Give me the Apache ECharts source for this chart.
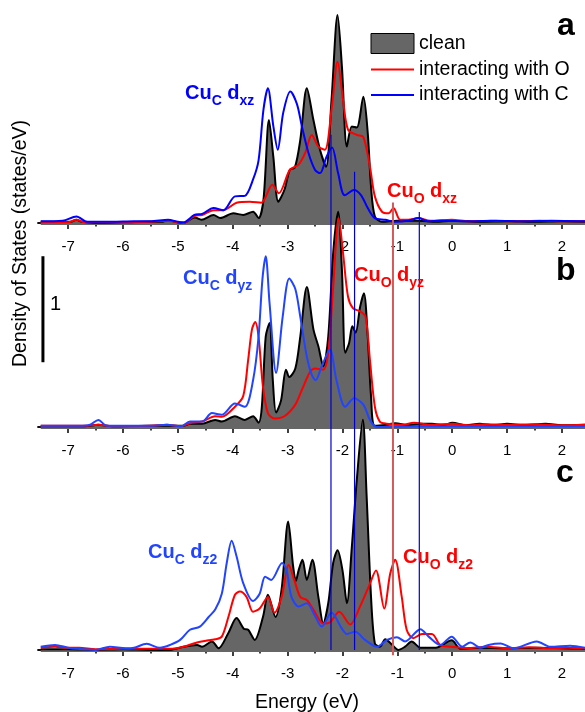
<!DOCTYPE html>
<html>
<head>
<meta charset="utf-8">
<title>Cu d-DOS</title>
<script src="https://cdn.jsdelivr.net/npm/echarts@6/dist/echarts.min.js"></script>
<style>
html,body{margin:0;padding:0;background:#fff;}
#dos{width:585px;height:712px;}
</style>
</head>
<body>
<div id="dos"></div>
<script>
// energy axis ticks (eV)
var majorTicks = [-7,-6,-5,-4,-3,-2,-1,0,1,2]
var minorTicks = [-6.5,-5.5,-4.5,-3.5,-2.5,-1.5,-0.5,0.5,1.5]

// panel a : d_xz   [energy, states/eV]
var aClean = [[-7.5,0.01],[-7.2,0.01],[-6.95,0.01],[-6.85,0.03],[-6.75,0.01],[-6.5,0],[-6,0.005],[-5.6,0.01],[-5.3,0.01],[-5.18,0.025],[-5.05,0.01],[-4.9,0],[-4.69,0.05],[-4.57,0.03],[-4.35,0.075],[-4.23,0.045],[-3.99,0.09],[-3.81,0.075],[-3.63,0.105],[-3.53,0.045],[-3.44,0.22],[-3.34,0.97],[-3.26,0.62],[-3.17,0.2],[-3.06,0.31],[-2.96,0.5],[-2.87,0.52],[-2.77,0.78],[-2.65,1.27],[-2.53,0.97],[-2.41,0.69],[-2.3,0.53],[-2.2,1.16],[-2.09,1.96],[-2.01,1.47],[-1.92,0.72],[-1.83,0.91],[-1.74,0.9],[-1.62,1.19],[-1.54,0.85],[-1.48,0.34],[-1.41,0.06],[-1.28,0.01],[-1,0.02],[-0.6,0.02],[-0.3,0.01],[0,0.02],[0.5,0.01],[1,0.015],[1.5,0.01],[2,0.015],[2.42,0.01]]
var aWithO = [[-7.5,0.005],[-7,0.005],[-6.85,0.03],[-6.7,0.005],[-6,0.005],[-5.5,0.01],[-5.2,0.02],[-4.9,0],[-4.7,0.065],[-4.56,0.075],[-4.35,0.12],[-4.17,0.12],[-3.93,0.19],[-3.69,0.2],[-3.48,0.19],[-3.28,0.36],[-3.16,0.28],[-2.96,0.5],[-2.8,0.55],[-2.68,0.66],[-2.56,0.83],[-2.44,0.72],[-2.32,0.69],[-2.2,1.07],[-2.09,1.52],[-1.99,1.16],[-1.9,0.88],[-1.74,0.83],[-1.62,0.81],[-1.5,0.53],[-1.41,0.25],[-1.28,0.105],[-1.16,0.09],[-1.07,0.14],[-0.95,0.03],[-0.8,0.03],[-0.62,0.045],[-0.4,0.02],[-0.01,0.03],[0.3,0.015],[0.7,0.02],[1.1,0.015],[1.6,0.02],[2,0.015],[2.42,0.015]]
var aWithC = [[-7.5,0.015],[-7.1,0.02],[-6.85,0.06],[-6.65,0.01],[-6.2,0.01],[-5.8,0.015],[-5.5,0.015],[-5.18,0.03],[-5,0.01],[-4.9,0.005],[-4.7,0.075],[-4.56,0.085],[-4.35,0.14],[-4.17,0.12],[-3.96,0.25],[-3.78,0.255],[-3.63,0.41],[-3.53,0.59],[-3.44,1.07],[-3.36,1.27],[-3.26,0.91],[-3.18,0.69],[-3.08,1.04],[-2.95,1.24],[-2.83,1.12],[-2.74,0.91],[-2.62,0.66],[-2.5,0.5],[-2.41,0.47],[-2.29,0.625],[-2.19,0.71],[-2.08,0.47],[-1.96,0.26],[-1.79,0.31],[-1.66,0.26],[-1.54,0.14],[-1.41,0.045],[-1.22,0.03],[-1.04,0.01],[-0.8,0.02],[-0.61,0.045],[-0.45,0.015],[-0.2,0.02],[0.3,0.015],[0.8,0.02],[1.3,0.015],[1.8,0.02],[2.42,0.015]]

// panel b : d_yz
var bClean = [[-7.5,0.005],[-6.7,0.005],[-6.45,0.02],[-6.2,0.005],[-5.5,0.01],[-5.2,0.01],[-4.9,0.01],[-4.78,0.03],[-4.56,0.03],[-4.32,0.066],[-4.2,0.05],[-3.96,0.1],[-3.78,0.066],[-3.63,0.1],[-3.53,0.04],[-3.47,0.19],[-3.4,0.85],[-3.33,0.98],[-3.27,0.44],[-3.21,0.135],[-3.12,0.25],[-3.03,0.54],[-2.97,0.47],[-2.86,0.55],[-2.77,0.85],[-2.65,1.32],[-2.53,0.92],[-2.44,0.76],[-2.35,0.57],[-2.26,0.85],[-2.17,1.64],[-2.08,2.03],[-2.01,1.48],[-1.95,0.7],[-1.88,0.79],[-1.82,0.95],[-1.76,0.89],[-1.68,1.13],[-1.61,1.26],[-1.54,0.85],[-1.48,0.29],[-1.41,0.01],[-1.2,0.02],[-1.04,0.035],[-0.8,0.015],[-0.6,0.03],[-0.37,0.03],[-0.15,0.015],[0,0.04],[0.25,0.015],[0.5,0.03],[0.75,0.015],[1,0.03],[1.3,0.015],[1.7,0.03],[2,0.015],[2.42,0.02]]
var bWithO = [[-7.5,0.01],[-6.7,0.01],[-6.45,0.02],[-6.2,0.005],[-5.5,0.01],[-5.2,0.02],[-4.95,0.005],[-4.78,0.035],[-4.56,0.05],[-4.32,0.1],[-4.2,0.095],[-3.96,0.19],[-3.81,0.29],[-3.72,0.63],[-3.65,0.92],[-3.59,0.99],[-3.53,0.85],[-3.45,0.38],[-3.36,0.13],[-3.24,0.08],[-3.06,0.1],[-2.86,0.21],[-2.74,0.35],[-2.59,0.52],[-2.5,0.55],[-2.35,0.54],[-2.26,0.7],[-2.17,1.32],[-2.07,1.97],[-1.99,1.64],[-1.9,1.23],[-1.81,1.12],[-1.68,1.09],[-1.58,1.04],[-1.5,0.63],[-1.41,0.19],[-1.32,0.05],[-1.2,0.03],[-0.9,0.02],[-0.7,0.04],[-0.4,0.02],[0,0.03],[0.3,0.015],[0.6,0.025],[1,0.02],[1.5,0.025],[2,0.015],[2.42,0.02]]
var bWithC = [[-7.5,0.01],[-6.8,0.01],[-6.6,0.02],[-6.45,0.066],[-6.3,0.01],[-5.5,0.01],[-5.2,0.02],[-4.95,0.005],[-4.78,0.05],[-4.56,0.05],[-4.38,0.13],[-4.2,0.115],[-3.96,0.22],[-3.78,0.19],[-3.63,0.44],[-3.53,0.85],[-3.46,1.39],[-3.4,1.61],[-3.33,1.17],[-3.21,0.51],[-3.09,1.04],[-2.97,1.4],[-2.86,1.3],[-2.77,1.04],[-2.65,0.66],[-2.56,0.49],[-2.49,0.44],[-2.38,0.57],[-2.23,0.73],[-2.11,0.44],[-1.95,0.19],[-1.79,0.27],[-1.62,0.21],[-1.5,0.066],[-1.38,0],[-1.1,0],[-0.6,0.005],[0,0.005],[1,0.005],[2.42,0.005]]

// panel c : d_z2
var cClean = [[-7.5,0.005],[-7,0.005],[-6.5,0],[-6,0.005],[-5.5,0],[-5.14,0],[-4.9,0.03],[-4.65,0.047],[-4.56,0.03],[-4.38,0.08],[-4.26,0.016],[-4.08,0.16],[-3.93,0.3],[-3.8,0.2],[-3.72,0.19],[-3.6,0.094],[-3.45,0.31],[-3.36,0.52],[-3.22,0.31],[-3.11,0.57],[-2.99,1.21],[-2.9,0.79],[-2.85,0.65],[-2.8,0.75],[-2.73,0.85],[-2.65,0.66],[-2.55,0.85],[-2.44,0.5],[-2.35,0.25],[-2.26,0.44],[-2.17,0.82],[-2.09,0.94],[-2,0.75],[-1.92,0.44],[-1.83,0.97],[-1.74,1.6],[-1.63,2.17],[-1.56,1.45],[-1.48,0.5],[-1.41,0.06],[-1.32,0.03],[-1.22,0.1],[-1.1,0.05],[-0.98,0],[-0.86,0.03],[-0.74,0.08],[-0.58,0.02],[-0.3,0.02],[-0.01,0.09],[0.15,0.01],[0.5,0.02],[1,0.015],[1.5,0.02],[2,0.015],[2.42,0.01]]
var cWithO = [[-7.5,0.02],[-7.24,0.03],[-7,0.02],[-6.8,0.02],[-6.5,0.005],[-6,0.01],[-5.5,0.01],[-5.14,0.01],[-4.9,0.03],[-4.65,0.07],[-4.41,0.094],[-4.32,0.1],[-4.2,0.125],[-4.08,0.31],[-3.96,0.52],[-3.87,0.55],[-3.75,0.5],[-3.63,0.36],[-3.51,0.39],[-3.36,0.5],[-3.24,0.35],[-3.11,0.5],[-2.98,0.8],[-2.88,0.66],[-2.77,0.5],[-2.65,0.47],[-2.53,0.38],[-2.35,0.25],[-2.23,0.26],[-2.06,0.36],[-1.86,0.24],[-1.68,0.41],[-1.52,0.6],[-1.39,0.75],[-1.24,0.39],[-1.13,0.72],[-1.04,0.85],[-0.92,0.5],[-0.83,0.19],[-0.71,0.11],[-0.55,0.15],[-0.37,0.15],[-0.22,0.047],[-0.04,0.03],[0.27,0.016],[0.63,0.03],[1,0.015],[1.4,0.025],[1.8,0.015],[2.1,0.02],[2.42,0.015]]
var cWithC = [[-7.5,0.03],[-7.24,0.047],[-7,0.02],[-6.85,0.01],[-6.5,0],[-6.24,0.03],[-5.95,0.015],[-5.8,0.02],[-5.57,0.057],[-5.33,0.02],[-5.14,0.047],[-4.96,0.094],[-4.78,0.19],[-4.6,0.22],[-4.44,0.31],[-4.32,0.38],[-4.2,0.53],[-4.11,0.82],[-4.02,1.03],[-3.93,0.88],[-3.81,0.63],[-3.63,0.46],[-3.51,0.53],[-3.41,0.69],[-3.3,0.66],[-3.1,0.82],[-3.02,0.75],[-2.93,0.5],[-2.8,0.41],[-2.65,0.44],[-2.5,0.32],[-2.38,0.22],[-2.2,0.35],[-2.01,0.2],[-1.92,0.15],[-1.77,0.17],[-1.59,0.094],[-1.37,0.03],[-1.19,0.094],[-1.01,0.12],[-0.86,0.08],[-0.58,0.195],[-0.43,0.125],[-0.22,0.047],[-0.01,0.125],[0.18,0.03],[0.33,0.07],[0.51,0.02],[0.66,0.047],[0.88,0.06],[1.12,0.015],[1.54,0.08],[1.79,0.03],[2.15,0.04],[2.42,0.02]]

// marker lines (energy, top/bottom in panel-c units)
var vLineE = [-2.21,-1.78,-1.08,-0.6]
var vLineTop = [4.86,4.51,4.22,4.13]
var vLineBottom = [0,0,-0.05,0]

var font = "'Liberation Sans', Arial, Helvetica, sans-serif"
var H = 712
var pxPerUnit = 106          // 1 state/eV = scale bar length
var axisRow = [225,429,652]  // pixel row of each panel's energy axis
var yMin = -0.02
var blueA = '#0000ff', blueBC = '#2244ff', red = '#ff0000'

var panels = [
  {clean:aClean, O:aWithO, C:aWithC, blue:blueA},
  {clean:bClean, O:bWithO, C:bWithC, blue:blueBC},
  {clean:cClean, O:cWithO, C:cWithC, blue:blueBC}
]

var grid = [], xAxis = [], yAxis = [], series = []

axisRow.forEach(function (row, i) {
  grid.push({left:38, right:0, top:0, bottom:H - row, outerBoundsMode:'none'})
  xAxis.push({
    gridIndex:i, type:'value', min:-7.55, max:2.42,
    axisLine:{lineStyle:{color:'#000', width:1.5}},
    axisTick:{customValues:majorTicks, length:6, lineStyle:{color:'#000', width:1.5}},
    axisLabel:{customValues:majorTicks, color:'#000', fontSize:15, fontFamily:font, margin:14},
    splitLine:{show:false}
  })
  yAxis.push({gridIndex:i, type:'value', min:yMin, max:yMin + row / pxPerUnit, show:false})
})
// minor ticks sit on a twin grid
axisRow.forEach(function (row, i) {
  grid.push({left:38, right:0, top:0, bottom:H - row, outerBoundsMode:'none'})
  xAxis.push({
    gridIndex:3 + i, type:'value', min:-7.55, max:2.42,
    axisLine:{show:true, lineStyle:{color:'#000', width:1.5}},
    axisTick:{customValues:minorTicks, length:3.5, lineStyle:{color:'#000', width:1.5}},
    axisLabel:{show:false},
    splitLine:{show:false}
  })
  yAxis.push({gridIndex:3 + i, type:'value', min:yMin, max:yMin + row / pxPerUnit, show:false})
})

panels.forEach(function (p, i) {
  series.push({
    name:'clean', type:'line', xAxisIndex:i, yAxisIndex:i, data:p.clean,
    smooth:0.3, symbol:'none', clip:false,
    lineStyle:{color:'#000', width:2}, itemStyle:{color:'#666'},
    areaStyle:{color:'#666666', opacity:1, origin:'start'}
  })
  series.push({
    name:'interacting with O', type:'line', xAxisIndex:i, yAxisIndex:i, data:p.O,
    smooth:0.3, symbol:'none', clip:false,
    lineStyle:{color:red, width:2}, itemStyle:{color:red}
  })
  series.push({
    name:'interacting with C', type:'line', xAxisIndex:i, yAxisIndex:i, data:p.C,
    smooth:0.3, symbol:'none', clip:false,
    lineStyle:{color:p.blue, width:2}, itemStyle:{color:p.blue}
  })
})

vLineE.forEach(function (e, k) {
  var isRed = k === 2
  series.push({
    type:'line', xAxisIndex:2, yAxisIndex:2, symbol:'none', clip:false, z:5,
    data:[[e, vLineBottom[k]], [e, vLineTop[k]]],
    lineStyle:{color:isRed ? '#d25a5a' : '#0000cc', width:isRed ? 2 : 1.2},
    silent:true
  })
})

// scale bar: 1 state/eV, drawn in panel b units
series.push({
  type:'line', xAxisIndex:1, yAxisIndex:1, symbol:'none', clip:false, silent:true,
  data:[[-7.46, 0.61], [-7.46, 1.61]],
  lineStyle:{color:'#000', width:3}
})

// text helpers, subscripts placed by measured width
var ctx = document.createElement('canvas').getContext('2d')
function tw(t, size) {
  ctx.font = 'bold ' + size + 'px ' + font
  return ctx.measureText(t).width
}
function txt(t, size, color, x, y, bold) {
  return {type:'text', x:x, y:y, z:10,
    style:{text:t, fontSize:size, fontWeight:bold ? 'bold' : 'normal', fontFamily:font, fill:color, verticalAlign:'middle'}}
}
// Cu_sub1 d_sub2, base = baseline of the big letters
function tag(sub1, sub2, color, x, base) {
  var out = [], cx = x
  out.push(txt('Cu', 20, color, cx, base - 7, true)); cx += tw('Cu', 20)
  out.push(txt(sub1, 14, color, cx, base + 1, true)); cx += tw(sub1, 14)
  out.push(txt(' d', 20, color, cx, base - 7, true)); cx += tw(' d', 20)
  out.push(txt(sub2, 14, color, cx, base + 1, true))
  return out
}

var graphic = [].concat(
  tag('C', 'xz', blueA, 185, 100),
  tag('O', 'xz', red, 387, 198),
  tag('C', 'yz', blueBC, 183, 285),
  tag('O', 'yz', red, 354, 282),
  tag('C', 'z2', blueBC, 148, 559),
  tag('O', 'z2', red, 403, 564),
  [
    txt('a', 32, '#000', 557, 26, true),
    txt('b', 32, '#000', 556, 271, true),
    txt('c', 32, '#000', 556, 473, true),
    txt('1', 20, '#000', 50, 304, false),
    {type:'text', x:20.5, y:243.5, rotation:Math.PI / 2,
      style:{text:'Density of States (states/eV)', fontSize:19.5, fontFamily:font, fill:'#000', align:'center', verticalAlign:'middle'}},
    {type:'text', x:307, y:702.5,
      style:{text:'Energy (eV)', fontSize:19.5, fontFamily:font, fill:'#000', align:'center', verticalAlign:'middle'}}
  ]
)

var chart = echarts.init(document.getElementById('dos'))
chart.setOption({
  animation:false,
  backgroundColor:'#fff',
  grid:grid, xAxis:xAxis, yAxis:yAxis, series:series,
  legend:{
    left:370, top:33, orient:'vertical', selectedMode:false, padding:0,
    itemWidth:43, itemHeight:20, itemGap:5.5,
    textStyle:{fontSize:19.5, color:'#000', fontFamily:font},
    data:[
      {name:'clean', icon:'rect', itemStyle:{color:'#666', borderColor:'#000', borderWidth:1}},
      {name:'interacting with O', itemStyle:{opacity:0}},
      {name:'interacting with C', itemStyle:{opacity:0}}
    ]
  },
  graphic:graphic
})
window.addEventListener('resize', function () {
  chart.resize()
})
</script>
</body>
</html>
